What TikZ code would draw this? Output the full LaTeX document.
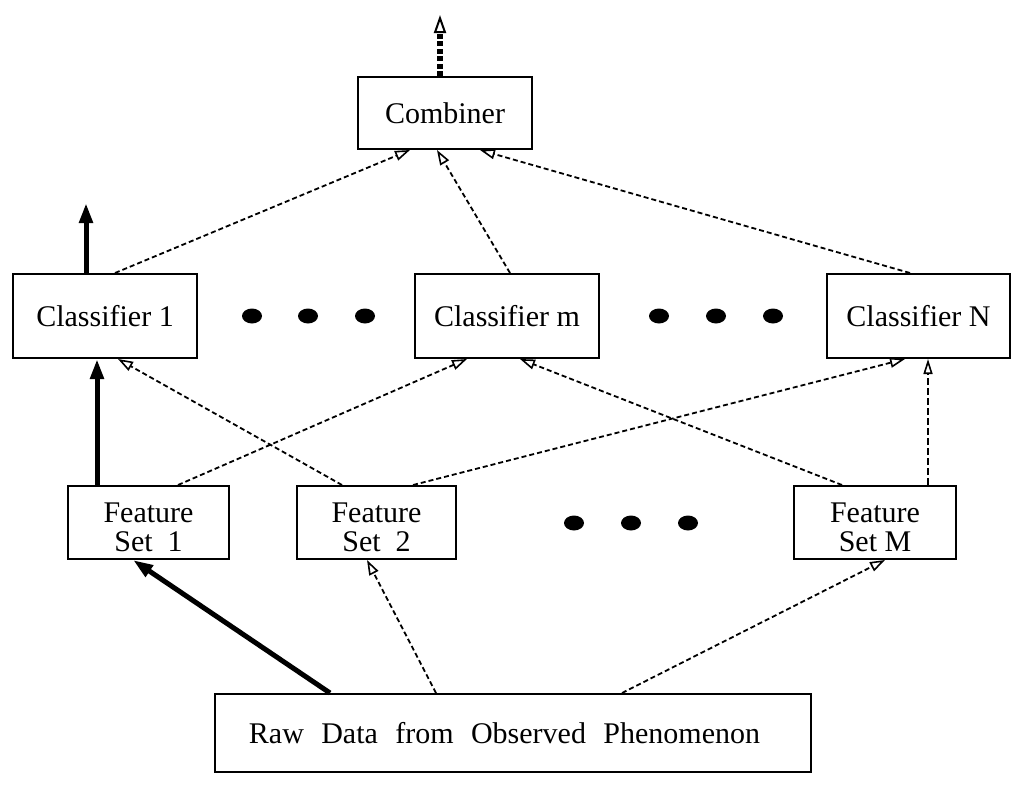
\documentclass[tikz,border=0pt]{standalone}
\usepackage{fontspec}
\setmainfont{Liberation Serif}
\usetikzlibrary{arrows.meta}
\begin{document}
\begin{tikzpicture}[x=1pt,y=-1pt,
  box/.style={draw, line width=2pt, inner sep=0pt, font=\fontsize{30}{29}\selectfont, align=center},
  dsh/.style={line width=1.8pt, dash pattern=on 5pt off 3pt, -{Triangle[open,length=15pt,width=10pt,line width=1.6pt]}},
  vdsh/.style={line width=1.5pt, dash pattern=on 7pt off 3pt, -{Triangle[open,length=15pt,width=9pt,line width=1.6pt]}},
  thk/.style={line width=5pt, -{Triangle[length=20pt,width=13pt]}},
  thkdsh/.style={line width=6pt, dash pattern=on 5pt off 2.5pt, -{Triangle[open,length=18pt,width=12pt,line width=2pt]}},
  bigdot/.style={fill=black}]
\useasboundingbox (0,0) rectangle (1024,787);
% nodes
\node[box, minimum width=174pt, minimum height=72pt] (comb) at (445,113) {Combiner};
\node[box, minimum width=184pt, minimum height=84pt] (c1) at (105,316) {Classifier 1};
\node[box, minimum width=184pt, minimum height=84pt] (cm) at (507,316) {Classifier m};
\node[box, minimum width=183pt, minimum height=84pt] (cN) at (918.5,316) {Classifier N};
\node[box, minimum width=161pt, minimum height=73pt] (f1) at (148.5,522.5) {\rule{0pt}{29pt}Feature\\Set~~1};
\node[box, minimum width=159pt, minimum height=73pt] (f2) at (376.5,522.5) {\rule{0pt}{29pt}Feature\\Set~~2};
\node[box, minimum width=162pt, minimum height=73pt] (fM) at (875,522.5) {\rule{0pt}{29pt}Feature\\Set M};
\node[box, minimum width=596pt, minimum height=78pt] (raw) at (513,733)
  {\hspace*{-17pt}Raw\hspace{0.58em}Data\hspace{0.58em}from\hspace{0.58em}Observed\hspace{0.58em}Phenomenon};
\coordinate (out) at (440,15);
\coordinate (out1) at (86,203);
% dots
\foreach \x in {252,308,365,659,716,773} \fill[bigdot] (\x,316) ellipse [x radius=10pt, y radius=7.5pt];
\foreach \x in {574,631,688} \fill[bigdot] (\x,523) ellipse [x radius=10pt, y radius=7.5pt];
% connectors
\draw[thkdsh] ([xshift=-5pt]comb.north) -- (out);
\draw[thk] ([xshift=-19pt]c1.north) -- (out1);
\draw[dsh] ([xshift=10pt]c1.north) -- ([xshift=-35pt]comb.south);
\draw[dsh] ([xshift=3pt]cm.north) -- ([xshift=-8pt]comb.south);
\draw[dsh] ([xshift=-8.5pt]cN.north) -- ([xshift=35pt]comb.south);
\draw[thk] ([xshift=-51.5pt]f1.north) -- ([xshift=-8pt]c1.south);
\draw[dsh] ([xshift=29.5pt]f1.north) -- ([xshift=-40pt]cm.south);
\draw[dsh] ([xshift=-34.5pt]f2.north) -- ([xshift=13pt]c1.south);
\draw[dsh] ([xshift=36.5pt]f2.north) -- ([xshift=-13.5pt]cN.south);
\draw[dsh] ([xshift=-33pt]fM.north) -- ([xshift=13pt]cm.south);
\draw[vdsh] ([xshift=53pt]fM.north) -- ([xshift=9.5pt]cN.south);
\draw[thk] ([xshift=-183pt]raw.north) -- ([xshift=-15.5pt]f1.south);
\draw[dsh] ([xshift=-77pt]raw.north) -- ([xshift=-9.5pt]f2.south);
\draw[dsh] ([xshift=109pt]raw.north) -- ([xshift=10pt]fM.south);
\end{tikzpicture}
\end{document}
